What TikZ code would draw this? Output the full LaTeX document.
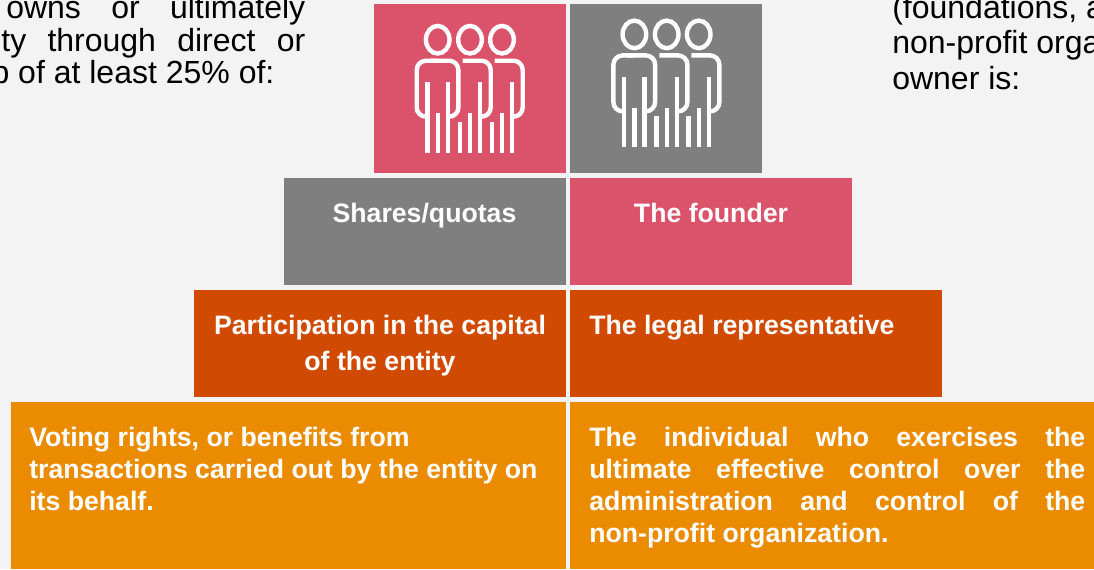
\documentclass[tikz,border=0pt]{standalone}
\usepackage{fontspec}
\setmainfont{Liberation Sans}
\usepackage{xcolor}
\definecolor{pagegrey}{RGB}{243,243,243}
\definecolor{tierrose}{RGB}{219,83,106}
\definecolor{tiergrey}{RGB}{127,127,127}
\definecolor{tierorange}{RGB}{208,74,2}
\definecolor{tieramber}{RGB}{235,140,0}
\tikzset{
  plaintext/.style={inner sep=0pt,text=black,font=\fontsize{24}{32}\selectfont},
  tiertext/.style={inner sep=0pt,text=white,font=\fontsize{20}{24}\selectfont\bfseries},
  pics/peopleicon/.style={code={
    \foreach \dx/\n in {0/1,32.3/2,64.3/3} {
      \draw[white,line width=3.3pt] (\dx,0) ellipse [x radius=11.8,y radius=13.8];
      \draw[white,line width=3.3pt,rounded corners=7pt] (\dx-7.3,21) -- (\dx+20.7,21) -- (\dx+20.7,77) -- (\dx+12,77);
      \draw[white,line width=3.3pt] (\dx-10.3,113) -- (\dx-10.3,{\n==1?42.3:82});
      \draw[white,line width=3.3pt] (\dx,113) -- (\dx,73.7);
      \draw[white,line width=3.3pt] (\dx+10,113) -- (\dx+10,42.3);
    }
    \draw[white,line width=3.3pt,rounded corners=7pt] (-12,77) -- (-21,77) -- (-21,21) -- (0,21);
  }}
}
\begin{document}
\begin{tikzpicture}[x=0.75pt,y=-0.75pt]
\useasboundingbox (0,0) rectangle (1094,569);
\fill[pagegrey] (0,0) rectangle (1094,569);
% Side texts, cut by the page
\node[plaintext,anchor=base west] (leftlineA) at (6,18.5) {\makebox[224.25pt][s]{owns or ultimately}};
\node[plaintext,anchor=base west] (leftlineB) at (-6,51) {\makebox[233.25pt][s]{ity through direct or}};
\node[plaintext,anchor=base west] (leftlineC) at (-8.7,83) {p of at least 25\% of:};
\node[plaintext,anchor=base west] (rightlineA) at (892,18) {(foundations, a};
\node[plaintext,anchor=base west] (rightlineB) at (892,53.5) {non-profit orga};
\node[plaintext,anchor=base west] (rightlineC) at (892,89) {owner is:};
% Top tier with icons
\fill[tierrose] (374,4) rectangle (566,173);
\fill[tiergrey] (570,4) rectangle (762,173);
\pic at (437.7,39.7) {peopleicon};
\pic at (634.4,34.4) {peopleicon};
% Second tier
\fill[tiergrey] (284,178) rectangle (566,285);
\fill[tierrose] (570,178) rectangle (852,285);
\node[tiertext,anchor=base] (shares) at (424.5,222) {Shares/quotas};
\node[tiertext,anchor=base] (founder) at (711,222) {The founder};
% Third tier
\fill[tierorange] (194,290) rectangle (566,397);
\fill[tierorange] (570,290) rectangle (942,397);
\node[tiertext,anchor=north,align=center,font=\fontsize{20}{27}\selectfont\bfseries] (capital) at (380,315) {Participation in the capital\\of the entity};
\node[tiertext,anchor=base west] (legalrep) at (589,334) {The legal representative};
% Bottom tier
\fill[tieramber] (11,402) rectangle (566,569);
\fill[tieramber] (570,402) rectangle (1094,569);
\node[tiertext,anchor=north west,align=left] (voting) at (29,427) {Voting rights, or benefits from\\transactions carried out by the entity on\\its behalf.};
\node[tiertext,anchor=north west,text width=372pt,align=justify] (individual) at (589,427) {The individual who exercises the\linebreak ultimate effective control over the\linebreak administration and control of the\linebreak non-profit organization.};
\end{tikzpicture}
\end{document}
